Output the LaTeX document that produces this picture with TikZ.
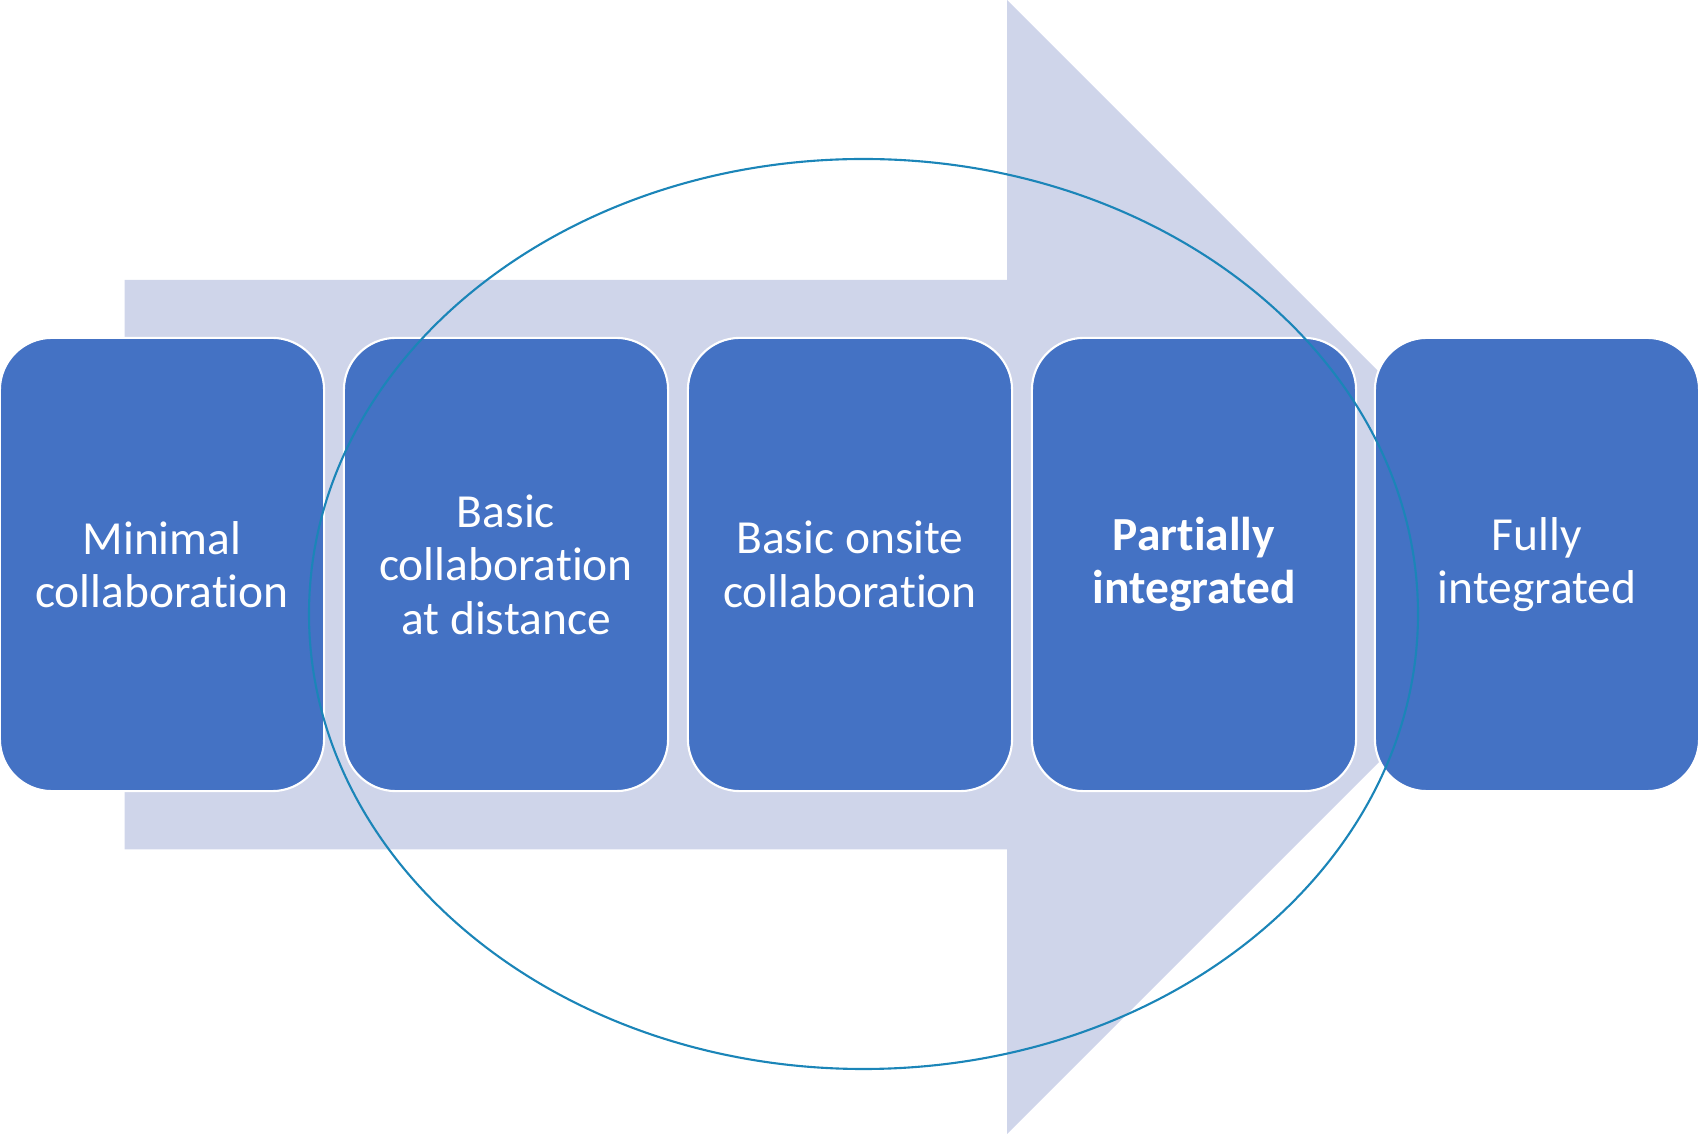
\documentclass[tikz,border=0pt]{standalone}
\usepackage{fontspec}
\setmainfont{Carlito}[Ligatures={NoCommon}]
\definecolor{stagefill}{HTML}{4472C4}
\definecolor{arrowfill}{HTML}{CFD5EA}
\definecolor{ringline}{HTML}{1B85B8}
\tikzset{
  stage/.style={rectangle, rounded corners=0.52cm, fill=stagefill, draw=white,
    line width=0.6pt, minimum width=3.24cm, minimum height=4.53cm,
    text=white, align=center, font=\fontsize{13.5}{15.2}\selectfont},
  ring/.style={draw=ringline, line width=0.6pt}
}
\begin{document}
\begin{tikzpicture}[x=0.01cm,y=-0.01cm]
      \useasboundingbox (0,0) rectangle (1699,1134);
      % background arrow
      \fill[arrowfill] (124.6,280) -- (1007,280) -- (1007,0) -- (1574,567)
        -- (1007,1134) -- (1007,849.5) -- (124.6,849.5) -- cycle;
      % stages
      \node[stage] (minimal) at (162,564.5) {Minimal\\collaboration};
      \node[stage] (distance) at (506,564.5) {Basic\\collaboration\\at distance};
      \node[stage] (onsite) at (850,564.5) {Basic onsite\\collaboration};
      \node[stage, font=\fontsize{13.5}{15.2}\selectfont\bfseries] (partial) at (1194,564.5) {Partially\\integrated};
      \node[stage] (full) at (1537,564.5) {Fully\\integrated};
      % ring
      \draw[ring] (863.5,614) ellipse [x radius=554.5, y radius=-455];
    \end{tikzpicture}
\end{document}
